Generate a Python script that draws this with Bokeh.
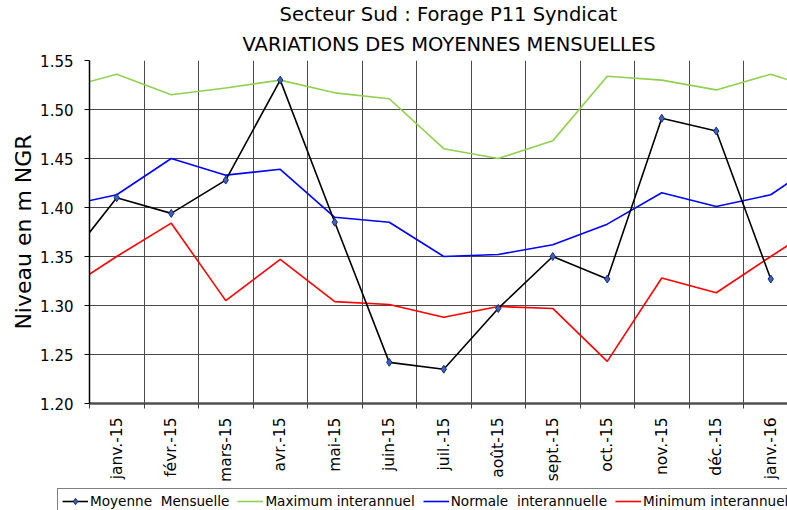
import math
from bokeh.plotting import figure
from bokeh.layouts import column
from bokeh.models import (Range1d, FixedTicker, Legend, LegendItem, Title)
from bokeh.embed import file_html
from bokeh.resources import INLINE

# ---- data ----
# first and last months lie just outside the visible window (lines run off the edges)
months = ["déc.-14", "janv.-15", "févr.-15", "mars-15", "avr.-15", "mai-15", "juin-15",
          "juil.-15", "août-15", "sept.-15", "oct.-15", "nov.-15", "déc.-15",
          "janv.-16", "févr.-16"]
visible_months = months[1:-1]

moyenne = [1.339, 1.410, 1.394, 1.428, 1.530, 1.385, 1.242, 1.235, 1.297,
           1.350, 1.327, 1.491, 1.478, 1.327, float("nan")]
maximum = [1.521, 1.536, 1.515, 1.522, 1.530, 1.517, 1.511, 1.460, 1.450,
           1.468, 1.534, 1.530, 1.520, 1.536, 1.518]
normale = [1.401, 1.413, 1.450, 1.433, 1.439, 1.390, 1.385, 1.350, 1.352,
           1.362, 1.383, 1.415, 1.401, 1.413, 1.451]
minimum = [1.314, 1.350, 1.384, 1.305, 1.347, 1.304, 1.301, 1.288, 1.299,
           1.297, 1.243, 1.328, 1.313, 1.350, 1.386]

y_ticks = [1.20, 1.25, 1.30, 1.35, 1.40, 1.45, 1.50, 1.55]

series_names = ["Moyenne  Mensuelle", "Maximum interannuel",
                "Normale  interannuelle", "Minimum interannuel"]

x = list(range(-1, len(months) - 1))
centers = list(range(len(visible_months)))
bounds = [c - 0.5 for c in centers] + [centers[-1] + 0.5]

FONT = "DejaVu Sans"
C_MAX, C_NOR, C_MIN, C_MOY = "#92d050", "#0000ff", "#ff0000", "black"
MK = dict(marker="diamond", size=8, fill_color="#3a62c8", line_color="#1a2a70", line_width=1)


def no_align(fig):
    if "frame_align" in fig.properties():
        fig.frame_align = False


W, H = 787, 487
LEFT, TOP, FRAME_H = 89, 60, 343
p = figure(width=W, height=H, output_backend="svg", toolbar_location=None,
           x_range=Range1d(-0.5, -0.5 + (W - LEFT) / 54.5),
           y_range=Range1d(1.20, 1.55),
           min_border_left=LEFT, min_border_right=0, min_border_top=TOP,
           min_border_bottom=H - TOP - FRAME_H)
p.outline_line_color = None
p.background_fill_color = "white"
p.border_fill_color = "white"
no_align(p)

# grids
p.xgrid.ticker = FixedTicker(ticks=bounds)
p.ygrid.ticker = FixedTicker(ticks=y_ticks)
for g in (p.xgrid, p.ygrid):
    g.grid_line_color = "#4a4a4a"
    g.grid_line_width = 1

# y axis
ya = p.yaxis[0]
ya.ticker = FixedTicker(ticks=y_ticks)
ya.major_label_overrides = {t: f"{t:.2f}" for t in y_ticks}
ya.major_label_text_font = FONT
ya.major_label_text_font_size = "15px"
ya.major_label_text_color = "black"
ya.major_label_standoff = 11
ya.major_tick_out = 5
ya.major_tick_in = 0
ya.major_tick_line_color = "black"
ya.minor_tick_line_color = None
ya.axis_line_color = "black"
ya.axis_line_width = 1.5

# x axis
xa = p.xaxis[0]
xa.ticker = FixedTicker(ticks=centers, minor_ticks=bounds)
xa.major_label_overrides = {c: m for c, m in zip(centers, visible_months)}
xa.major_label_orientation = math.pi / 2
xa.major_label_text_font = FONT
xa.major_label_text_font_size = "15.5px"
xa.major_label_text_color = "black"
xa.major_label_standoff = 9
xa.major_tick_line_color = None
xa.major_tick_out = 0
xa.major_tick_in = 0
xa.minor_tick_out = 5
xa.minor_tick_in = 0
xa.minor_tick_line_color = "#404040"
xa.axis_line_color = "#505050"
xa.axis_line_width = 2.5

# series
p.line(x, maximum, line_color=C_MAX, line_width=1.6)
p.line(x, normale, line_color=C_NOR, line_width=1.6)
p.line(x, minimum, line_color=C_MIN, line_width=1.6)
p.line(x, moyenne, line_color=C_MOY, line_width=1.6)
p.scatter(x, moyenne, **MK)

# titles (second line closest to the plot), left aligned with offsets so both
# lines are centred at the same place as in the original
t2 = Title(text="VARIATIONS DES MOYENNES MENSUELLES", align="left", offset=153,
           standoff=10, text_font=FONT, text_font_size="19.5px",
           text_font_style="normal", text_color="black")
t1 = Title(text="Secteur Sud : Forage P11 Syndicat", align="left", offset=190,
           standoff=0, text_font=FONT, text_font_size="19.5px",
           text_font_style="normal", text_color="black")
p.add_layout(t2, "above")
p.add_layout(t1, "above")

# y axis title (placed in the left panel, shifted down like the original)
ty = Title(text="Niveau en m NGR", align="center", offset=-20, standoff=4,
           text_font=FONT, text_font_size="22px", text_font_style="normal",
           text_color="black")
p.add_layout(ty, "left")

# ---- legend strip below the chart ----
LH = 510 - H
q = figure(width=W, height=LH, output_backend="svg", toolbar_location=None,
           x_range=Range1d(-100, -99), y_range=Range1d(-100, -99),
           x_axis_type=None, y_axis_type=None, min_border=0,
           min_border_left=0, min_border_right=0, min_border_top=0, min_border_bottom=0)
q.outline_line_color = None
q.xgrid.visible = False
q.ygrid.visible = False
no_align(q)
# same series drawn in the strip (outside its visible range) to feed the legend
l_moy = q.line(x, moyenne, line_color=C_MOY, line_width=1.6)
m_moy = q.scatter(x, moyenne, **MK)
l_max = q.line(x, maximum, line_color=C_MAX, line_width=1.6)
l_nor = q.line(x, normale, line_color=C_NOR, line_width=1.6)
l_min = q.line(x, minimum, line_color=C_MIN, line_width=1.6)

legend = Legend(items=[
    LegendItem(label=series_names[0], renderers=[l_moy, m_moy]),
    LegendItem(label=series_names[1], renderers=[l_max]),
    LegendItem(label=series_names[2], renderers=[l_nor]),
    LegendItem(label=series_names[3], renderers=[l_min]),
], orientation="horizontal", location=(57, -4))
legend.padding = 4
legend.margin = 0
legend.spacing = 8
legend.glyph_width = 26
legend.glyph_height = 16
legend.label_height = 16
legend.label_standoff = 2
legend.label_text_font = FONT
legend.label_text_font_size = "13.6px"
legend.label_text_color = "black"
legend.border_line_color = "black"
legend.border_line_width = 1
legend.background_fill_color = "white"
legend.background_fill_alpha = 1
q.add_layout(legend, "center")

layout = column(p, q, spacing=0)
open("out.html", "w").write(file_html(layout, INLINE))
